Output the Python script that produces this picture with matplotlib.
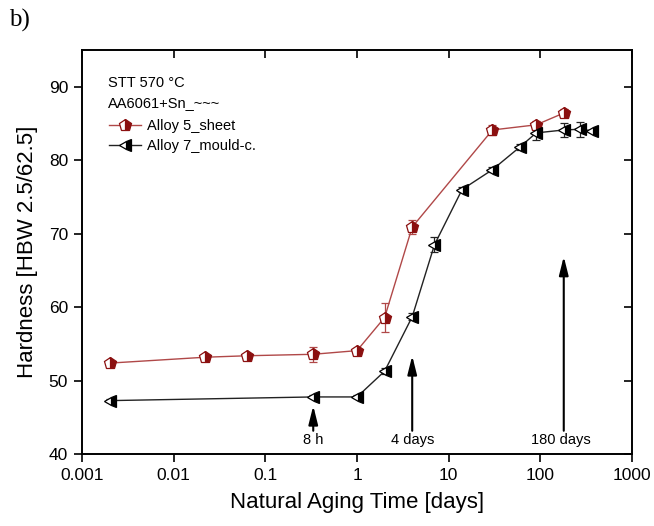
import matplotlib
matplotlib.use("Agg")
import matplotlib.pyplot as plt
from matplotlib.lines import Line2D
import numpy as np

plt.rcParams['font.family'] = ['Liberation Sans', 'DejaVu Sans']

# Alloy 5_sheet
t5 = [0.002, 0.022, 0.063, 0.333, 1, 2, 4, 30, 90, 180]
h5 = [52.4, 53.2, 53.4, 53.6, 54.1, 58.6, 70.9, 84.1, 84.8, 86.4]
e5 = [0.3, 0.3, 0.3, 1.0, 0.3, 2.0, 1.0, 0.7, 0.5, 0.5]

# Alloy 7_mould-c.
t7 = [0.002, 0.333, 1, 2, 4, 7, 14, 30, 60, 90, 180, 270, 365]
h7 = [47.3, 47.8, 47.8, 51.3, 58.7, 68.5, 76.0, 78.7, 81.8, 83.7, 84.1, 84.2, 84.0]
e7 = [0.2, 0.2, 0.2, 0.4, 0.5, 1.0, 0.3, 0.3, 0.4, 1.0, 1.0, 1.0, 0.0]

# arrow annotations: (label, x position, arrow tip y)
arrow_labels = ["8 h", "4 days", "180 days"]
arrow_x = [0.333, 4, 180]
arrow_tip = [46.6, 53.4, 66.9]

fig = plt.figure(figsize=(6.54, 5.26), dpi=100)
ax = fig.add_axes([0.1254, 0.1363, 0.841, 0.769])

red_line = '#b04848'
red_mark = '#8b1010'

st5 = dict(color=red_line, lw=1.0, marker='p', markersize=9, fillstyle='right',
           markerfacecolor=red_mark, markerfacecoloralt='white',
           markeredgecolor=red_mark, markeredgewidth=0.9)
st7 = dict(color='#222222', lw=1.0, marker='<', markersize=9, fillstyle='right',
           markerfacecolor='black', markerfacecoloralt='white',
           markeredgecolor='black', markeredgewidth=0.9)

ax.errorbar(t5, h5, yerr=e5, capsize=3, elinewidth=0.9, zorder=3, **st5)
ax.errorbar(t7, h7, yerr=e7, capsize=3, elinewidth=0.9, zorder=3, **st7)

for lab, x, tip in zip(arrow_labels, arrow_x, arrow_tip):
    ax.annotate('', xy=(x, tip), xytext=(x, 43.2),
                arrowprops=dict(arrowstyle='-|>,head_length=0.8,head_width=0.2',
                                color='black', lw=1.5,
                                mutation_scale=14, shrinkA=0, shrinkB=0))
    ax.text(x * (0.92 if lab == "180 days" else 1.0), 41.9, lab, ha='center',
            va='center', fontsize=10.5)

ax.set_xscale('log')
ax.set_xlim(0.001, 1000)
ax.set_ylim(40, 95)
ax.set_xticks([0.001, 0.01, 0.1, 1, 10, 100, 1000])
ax.set_xticklabels(['0.001', '0.01', '0.1', '1', '10', '100', '1000'])
ax.set_yticks([40, 50, 60, 70, 80, 90])
ax.xaxis.set_minor_locator(matplotlib.ticker.NullLocator())
ax.tick_params(axis='both', which='major', direction='out', length=6, width=1.2,
               labelsize=12.5, pad=4)
ax.tick_params(axis='both', top=True, right=True, labeltop=False, labelright=False)
for t in ax.xaxis.get_major_ticks():
    t.tick2line.set_marker(matplotlib.lines.TICKDOWN)
for t in ax.yaxis.get_major_ticks():
    t.tick2line.set_marker(matplotlib.lines.TICKLEFT)
for s in ax.spines.values():
    s.set_linewidth(1.4)

ax.set_xlabel('Natural Aging Time [days]', fontsize=16, labelpad=6)
ax.set_ylabel('Hardness [HBW 2.5/62.5]', fontsize=16, labelpad=8)

handles = [Line2D([], [], **st5), Line2D([], [], **st7)]
ax.legend(handles, ['Alloy 5_sheet', 'Alloy 7_mould-c.'], loc='upper left',
          bbox_to_anchor=(0.022, 0.865), frameon=False,
          fontsize=10.5, handlelength=2.2, handletextpad=0.45,
          borderaxespad=0.6, labelspacing=0.42)
ax.text(0.047, 0.918, 'STT 570 °C', transform=ax.transAxes, fontsize=10.5, va='center')
ax.text(0.047, 0.868, 'AA6061+Sn_~~~', transform=ax.transAxes, fontsize=10.5, va='center')

fig.text(0.014, 0.962, 'b)', fontsize=18, family='Liberation Serif', va='center')

fig.savefig('out.png', dpi=100)
